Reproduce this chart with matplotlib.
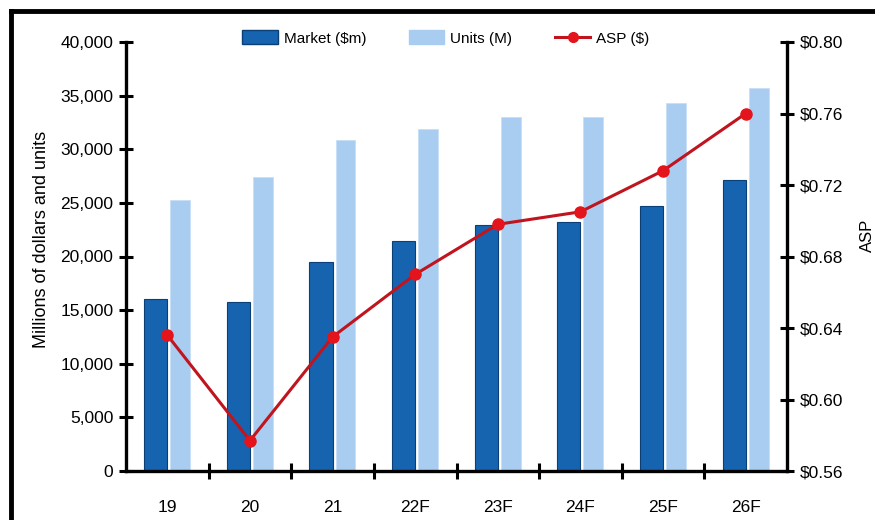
import numpy as np
import matplotlib
matplotlib.use("Agg")
import matplotlib.pyplot as plt
from matplotlib.lines import Line2D
from matplotlib.patches import Patch
from matplotlib.ticker import FuncFormatter, MultipleLocator

plt.rcParams['font.family'] = ['Liberation Sans', 'DejaVu Sans']

# ---------------------------
# data
# ---------------------------
years = ["19", "20", "21", "22F", "23F", "24F", "25F", "26F"]
market = [16000, 15800, 19500, 21400, 22900, 23200, 24700, 27100]   # $m
units = [25300, 27400, 30900, 31900, 33000, 33000, 34300, 35700]    # M
asp = [0.636, 0.577, 0.635, 0.670, 0.698, 0.705, 0.728, 0.760]      # $

dark_blue = "#1664b0"
light_blue = "#a9cdf0"
red = "#c0141e"

fig = plt.figure(figsize=(8.75, 5.2), dpi=100)
ax = fig.add_axes([126 / 875, 1 - 471 / 520, 661 / 875, 429 / 520])
ax2 = ax.twinx()

x = np.arange(len(years))
ax.bar(x - 0.14, market, width=0.28, color=dark_blue, edgecolor="#0b3f78", linewidth=0.8, zorder=2)
ax.bar(x + 0.157, units, width=0.24, color=light_blue, edgecolor="#c6def5", linewidth=0.6, zorder=2)

ax2.plot(x, asp, color=red, linewidth=2.2, marker="o", markersize=8,
         markerfacecolor="#e3141c", markeredgecolor="#e3141c", zorder=3)

# left axis
ax.set_xlim(-0.5, 7.5)
ax.set_ylim(0, 40000)
ax.yaxis.set_major_locator(MultipleLocator(5000))
ax.yaxis.set_major_formatter(FuncFormatter(lambda v, p: f"{int(v):,}"))
ax.set_ylabel("Millions of dollars and units", fontsize=13)
ax.yaxis.set_label_coords(-0.115, 0.54)

# right axis
ax2.set_ylim(0.56, 0.80)
ax2.yaxis.set_major_locator(MultipleLocator(0.04))
ax2.yaxis.set_major_formatter(FuncFormatter(lambda v, p: f"${v:.2f}"))
ax2.set_ylabel("ASP", fontsize=12, rotation=90)
ax2.yaxis.set_label_coords(1.11, 0.55)

# x ticks: labels at centres, tick marks at boundaries
ax.set_xticks(x)
ax.set_xticklabels(years)
ax.set_xticks(np.arange(0.5, 7.0, 1.0), minor=True)
ax.tick_params(axis="x", which="major", length=0, labelsize=12.5, pad=21)
ax.tick_params(axis="x", which="minor", direction="inout", length=12, width=2.2)

ax.tick_params(axis="y", direction="inout", length=10, width=2.2, labelsize=12.5, pad=4)
ax2.tick_params(axis="y", direction="inout", length=10, width=2.2, labelsize=12.5, pad=4)

for a in (ax, ax2):
    a.spines["top"].set_visible(False)
    for s in ("left", "right", "bottom"):
        a.spines[s].set_linewidth(2.4)
ax.spines["right"].set_visible(False)
ax2.spines["left"].set_visible(False)
ax2.spines["bottom"].set_visible(False)

# legend
handles = [
    Patch(facecolor=dark_blue, edgecolor="#0b3f78"),
    Patch(facecolor=light_blue, edgecolor=light_blue),
    Line2D([], [], color=red, linewidth=2.2, marker="o", markersize=7,
           markerfacecolor="#e3141c", markeredgecolor="#e3141c"),
]
fig.legend(handles, ["Market ($m)", "Units (M)", "ASP ($)"], loc="center",
           bbox_to_anchor=(446 / 875, 1 - 38 / 520), ncol=3, frameon=False,
           fontsize=11, handlelength=2.3, handleheight=1.0, columnspacing=2.8, handletextpad=0.4)

# black frame lines (top and left)
fig.add_artist(Line2D([11 / 875, 1], [1 - 11 / 520, 1 - 11 / 520], color="black", linewidth=3.5))
fig.add_artist(Line2D([11 / 875, 11 / 875], [0, 1 - 11 / 520], color="black", linewidth=3.5))

fig.savefig("out.png", dpi=100)
